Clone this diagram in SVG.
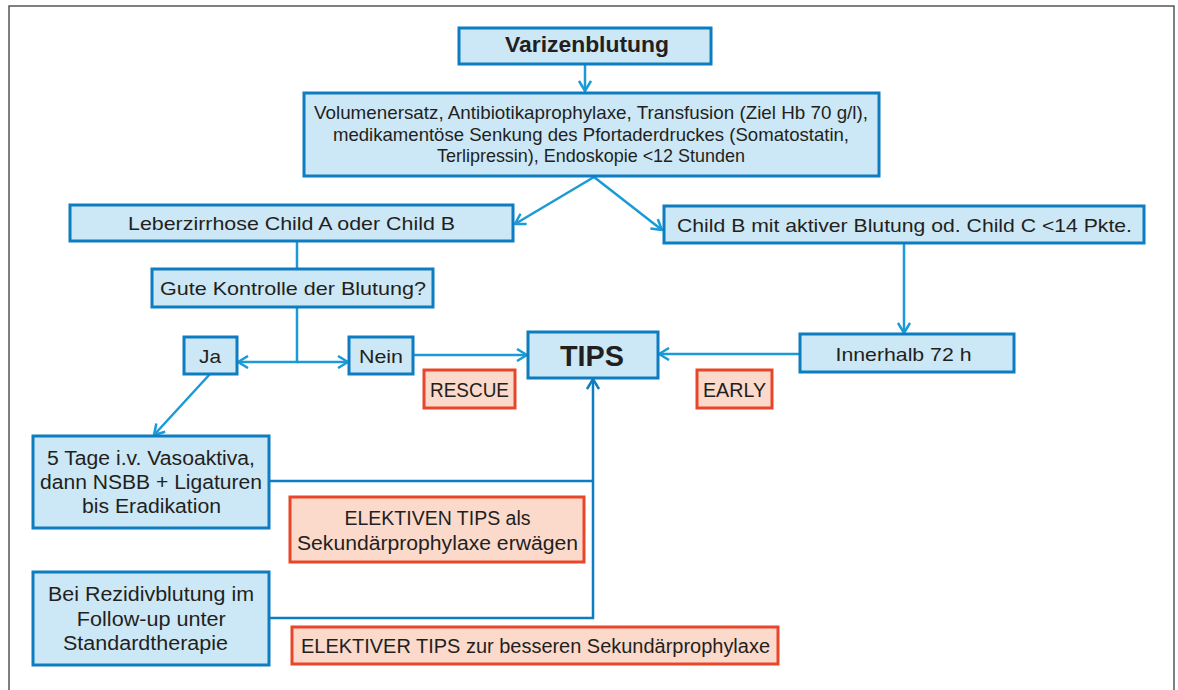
<svg xmlns="http://www.w3.org/2000/svg" width="1178" height="690" viewBox="0 0 1178 690">
<defs>
<style>
.box{fill:#cce7f6;stroke:#0e7cc0;stroke-width:3}
.red{fill:#fbd9cb;stroke:#e8462a;stroke-width:3}
.t{font-family:"Liberation Sans",Arial,sans-serif;font-size:18.5px;fill:#231f20;text-anchor:middle}
.b{font-weight:bold}
.c{fill:none;stroke:#1a9ad7;stroke-width:2.5}
.c2{fill:none;stroke:#0e7cc0;stroke-width:2.5}
</style>
<marker id="ah" viewBox="0 0 12 14" refX="11" refY="7" markerWidth="12" markerHeight="14" markerUnits="userSpaceOnUse" orient="auto">
<path d="M1,1 L11,7 L1,13" fill="none" stroke="#1a9ad7" stroke-width="2.5"/>
</marker>
<marker id="ah2" viewBox="0 0 12 14" refX="11" refY="7" markerWidth="12" markerHeight="14" markerUnits="userSpaceOnUse" orient="auto">
<path d="M1,1 L11,7 L1,13" fill="none" stroke="#0e7cc0" stroke-width="2.5"/>
</marker>
</defs>
<rect width="1178" height="690" fill="#ffffff"/>
<path d="M9,690 V6 H1174 V690" fill="none" stroke="#555" stroke-width="1.5"/>

<g id="connectors">
<path class="c" d="M585,64 V91" marker-end="url(#ah)"/>
<path class="c" d="M594,177 L515,224" marker-end="url(#ah)"/>
<path class="c" d="M594,177 L662,230" marker-end="url(#ah)"/>
<path class="c" d="M297,241 V268"/>
<path class="c" d="M297,307 V362 H238" marker-end="url(#ah)"/>
<path class="c" d="M297,362 H348" marker-end="url(#ah)"/>
<path class="c" d="M413,355 H527" marker-end="url(#ah)"/>
<path class="c" d="M800,354 H659" marker-end="url(#ah)"/>
<path class="c" d="M904,243 V333" marker-end="url(#ah)"/>
<path class="c" d="M210,374 L154,435" marker-end="url(#ah)"/>
<path class="c2" d="M269,481 H593"/>
<path class="c2" d="M269,618 H593 V379" marker-end="url(#ah2)"/>
</g>

<g id="varizenblutung">
<rect class="box" x="459" y="28" width="252" height="36"/>
<text class="t b" x="587" y="52" font-size="22" style="font-size:22px" textLength="164" lengthAdjust="spacingAndGlyphs">Varizenblutung</text>
</g>

<g id="massnahmen">
<rect class="box" x="304" y="93" width="575" height="83"/>
<text class="t" x="591" y="119" textLength="554" lengthAdjust="spacingAndGlyphs">Volumenersatz, Antibiotikaprophylaxe, Transfusion (Ziel Hb 70 g/l),</text>
<text class="t" x="591" y="140.5" textLength="516" lengthAdjust="spacingAndGlyphs">medikamentöse Senkung des Pfortaderdruckes (Somatostatin,</text>
<text class="t" x="591" y="162" textLength="308" lengthAdjust="spacingAndGlyphs">Terlipressin), Endoskopie &lt;12 Stunden</text>
</g>

<g id="leberzirrhose">
<rect class="box" x="70" y="205" width="443" height="36"/>
<text class="t" x="291.5" y="230" textLength="327" lengthAdjust="spacingAndGlyphs">Leberzirrhose Child A oder Child B</text>
</g>

<g id="childb">
<rect class="box" x="664" y="206" width="480" height="37"/>
<text class="t" x="904.5" y="231.5" textLength="455" lengthAdjust="spacingAndGlyphs">Child B mit aktiver Blutung od. Child C &lt;14 Pkte.</text>
</g>

<g id="kontrolle">
<rect class="box" x="152" y="269" width="281" height="38"/>
<text class="t" x="293" y="295" textLength="266" lengthAdjust="spacingAndGlyphs">Gute Kontrolle der Blutung?</text>
</g>

<g id="ja">
<rect class="box" x="184" y="337" width="53" height="37"/>
<text class="t" x="210" y="363" textLength="22" lengthAdjust="spacingAndGlyphs">Ja</text>
</g>

<g id="nein">
<rect class="box" x="349" y="337" width="64" height="37"/>
<text class="t" x="381" y="363" textLength="44" lengthAdjust="spacingAndGlyphs">Nein</text>
</g>

<g id="tips">
<rect class="box" x="528" y="332" width="130" height="46"/>
<text class="t b" x="592" y="366" style="font-size:30px" textLength="64" lengthAdjust="spacingAndGlyphs">TIPS</text>
</g>

<g id="rescue">
<rect class="red" x="424" y="370" width="91" height="38"/>
<text class="t" x="469.5" y="397" style="font-size:19.5px" textLength="79" lengthAdjust="spacingAndGlyphs">RESCUE</text>
</g>

<g id="early">
<rect class="red" x="697" y="370" width="75" height="38"/>
<text class="t" x="734.5" y="397" style="font-size:19.5px" textLength="63" lengthAdjust="spacingAndGlyphs">EARLY</text>
</g>

<g id="innerhalb">
<rect class="box" x="800" y="334" width="214" height="38"/>
<text class="t" x="903.5" y="361" textLength="136" lengthAdjust="spacingAndGlyphs">Innerhalb 72 h</text>
</g>

<g id="vasoaktiva">
<rect class="box" x="33" y="436" width="236" height="92"/>
<text class="t" x="151" y="465" style="font-size:19.5px" textLength="208" lengthAdjust="spacingAndGlyphs">5 Tage i.v. Vasoaktiva,</text>
<text class="t" x="151" y="489" style="font-size:19.5px" textLength="222" lengthAdjust="spacingAndGlyphs">dann NSBB + Ligaturen</text>
<text class="t" x="151.5" y="513" style="font-size:19.5px" textLength="139" lengthAdjust="spacingAndGlyphs">bis Eradikation</text>
</g>

<g id="elektiven">
<rect class="red" x="290" y="497" width="294" height="65"/>
<text class="t" x="437.5" y="525" style="font-size:19.5px" textLength="186" lengthAdjust="spacingAndGlyphs">ELEKTIVEN TIPS als</text>
<text class="t" x="437.5" y="550" style="font-size:19.5px" textLength="281" lengthAdjust="spacingAndGlyphs">Sekundärprophylaxe erwägen</text>
</g>

<g id="rezidiv">
<rect class="box" x="33" y="572" width="236" height="93"/>
<text class="t" x="151" y="601" style="font-size:19.5px" textLength="206" lengthAdjust="spacingAndGlyphs">Bei Rezidivblutung im</text>
<text class="t" x="151.3" y="625.5" style="font-size:19.5px" textLength="149" lengthAdjust="spacingAndGlyphs">Follow-up unter</text>
<text class="t" x="145.5" y="649.5" style="font-size:19.5px" textLength="165" lengthAdjust="spacingAndGlyphs">Standardtherapie</text>
</g>

<g id="elektiver">
<rect class="red" x="292" y="627" width="486" height="37"/>
<text class="t" x="535.5" y="653" style="font-size:19.5px" textLength="469" lengthAdjust="spacingAndGlyphs">ELEKTIVER TIPS zur besseren Sekundärprophylaxe</text>
</g>
</svg>
